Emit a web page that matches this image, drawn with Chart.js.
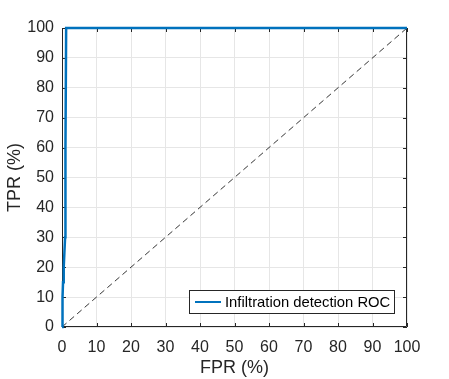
<!DOCTYPE html>
<html>
<head>
<meta charset="utf-8">
<script src="https://cdn.jsdelivr.net/npm/chart.js"></script>
<style>
  html, body { margin: 0; padding: 0; background: #fff; }
  #wrap { width: 449px; height: 379px; }
</style>
</head>
<body>
<div id="wrap"><canvas id="c" width="449" height="379"></canvas></div>
<script>
// ROC points (FPR %, TPR %)
const rocFpr = [0, 0.1, 0.2, 0.3, 0.5, 0.7, 0.9, 1.0, 1.2, 100];
const rocTpr = [0, 5, 10, 15, 20, 25, 30, 60, 100, 100];
const chanceFpr = [0, 100];
const chanceTpr = [0, 100];
const xTicks = [0, 10, 20, 30, 40, 50, 60, 70, 80, 90, 100];
const yTicks = [0, 10, 20, 30, 40, 50, 60, 70, 80, 90, 100];
const legendLabel = 'Infiltration detection ROC';

const font = 'Helvetica, "Liberation Sans", Arial, sans-serif';
const axisColor = '#262626';

// frame + inward ticks go under the lines, legend on top
const frame = {
  id: 'frame',
  beforeDatasetsDraw(chart) {
    const { ctx, chartArea: a, scales } = chart;
    ctx.save();
    ctx.strokeStyle = axisColor;
    ctx.lineWidth = 1;
    ctx.beginPath();
    ctx.rect(a.left + 0.5, a.top + 0.5, a.right - a.left - 1, a.bottom - a.top - 1);
    ctx.stroke();
    ctx.beginPath();
    xTicks.forEach(v => {
      const x = Math.round(scales.x.getPixelForValue(v)) + 0.5;
      ctx.moveTo(x, a.bottom); ctx.lineTo(x, a.bottom - 4);
      ctx.moveTo(x, a.top); ctx.lineTo(x, a.top + 4);
    });
    yTicks.forEach(v => {
      const y = Math.round(scales.y.getPixelForValue(v)) + 0.5;
      ctx.moveTo(a.left, y); ctx.lineTo(a.left + 4, y);
      ctx.moveTo(a.right, y); ctx.lineTo(a.right - 4, y);
    });
    ctx.stroke();
    ctx.restore();
  },
  afterDatasetsDraw(chart) {
    const { ctx, chartArea: a } = chart;
    ctx.save();
    ctx.font = '14.8px ' + font;
    const tw = ctx.measureText(legendLabel).width;
    const w = Math.round(tw + 40), h = 23;
    const right = a.right - 13, bottom = a.bottom - 14;
    const left = Math.round(right - w), top = bottom - h;
    ctx.fillStyle = '#fff';
    ctx.fillRect(left, top, w, h);
    ctx.strokeStyle = axisColor;
    ctx.lineWidth = 1;
    ctx.strokeRect(left + 0.5, top + 0.5, w, h);
    ctx.strokeStyle = '#0072BD';
    ctx.lineWidth = 2;
    ctx.beginPath();
    ctx.moveTo(left + 6, top + h / 2 + 0.5);
    ctx.lineTo(left + 32, top + h / 2 + 0.5);
    ctx.stroke();
    ctx.fillStyle = '#000';
    ctx.textBaseline = 'middle';
    ctx.fillText(legendLabel, left + 36, top + h / 2 + 1);
    ctx.restore();
  }
};

new Chart(document.getElementById('c'), {
  type: 'scatter',
  data: {
    datasets: [
      {
        data: rocFpr.map((x, i) => ({ x, y: rocTpr[i] })),
        showLine: true,
        borderColor: '#0072BD',
        borderWidth: 2.5,
        pointRadius: 0,
        clip: false,
        order: 1
      },
      {
        data: chanceFpr.map((x, i) => ({ x, y: chanceTpr[i] })),
        showLine: true,
        borderColor: '#000',
        borderWidth: 0.8,
        borderDash: [6, 4],
        pointRadius: 0,
        order: 2
      }
    ]
  },
  options: {
    responsive: false,
    animation: false,
    layout: { padding: { left: 0, top: 28, right: 42, bottom: 0 } },
    plugins: { legend: { display: false }, tooltip: { enabled: false } },
    scales: {
      x: {
        type: 'linear', min: 0, max: 100,
        afterBuildTicks: s => { s.ticks = xTicks.map(v => ({ value: v })); },
        afterFit: s => { s.height = 52; },
        grid: { color: '#e6e6e6', drawTicks: false },
        border: { display: false },
        ticks: { color: axisColor, font: { family: font, size: 16 }, padding: 11, maxRotation: 0 },
        title: { display: true, text: 'FPR (%)', color: axisColor, font: { family: font, size: 18 }, padding: { top: 2, bottom: 0 } }
      },
      y: {
        type: 'linear', min: 0, max: 100,
        afterBuildTicks: s => { s.ticks = yTicks.map(v => ({ value: v })); },
        afterFit: s => { s.width = 62; },
        grid: { color: '#e6e6e6', drawTicks: false },
        border: { display: false },
        ticks: { color: axisColor, font: { family: font, size: 16 }, padding: 8 },
        title: { display: true, text: 'TPR (%)', color: axisColor, font: { family: font, size: 18 }, padding: { top: 4, bottom: 0 } }
      }
    }
  },
  plugins: [frame]
});
</script>
</body>
</html>
